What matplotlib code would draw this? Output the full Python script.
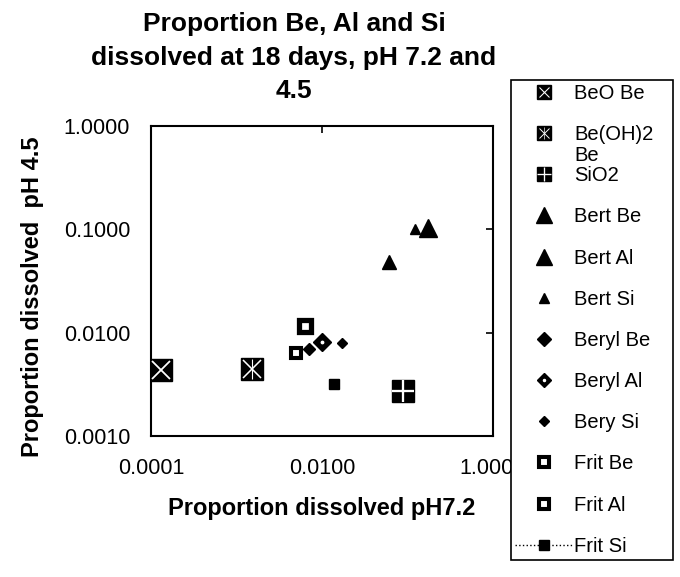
import matplotlib
matplotlib.use("Agg")
import matplotlib.pyplot as plt
from matplotlib.lines import Line2D
from matplotlib.transforms import IdentityTransform

plt.rcParams['font.family'] = ['Liberation Sans', 'DejaVu Sans']

# proportion dissolved after 18 days
labels = ['BeO Be', 'Be(OH)2', 'SiO2', 'Bert Be', 'Bert Al', 'Bert Si',
          'Beryl Be', 'Beryl Al', 'Bery Si', 'Frit Be', 'Frit Al', 'Frit Si']
ph72 = [0.00013, 0.00151, 0.088, 0.060, 0.172, 0.122,
        0.0070, 0.0099, 0.0173, 0.0049, 0.0063, 0.0138]
ph45 = [0.0044, 0.0045, 0.0027, 0.0487, 0.1025, 0.100,
        0.0069, 0.0082, 0.0079, 0.0063, 0.0116, 0.0032]

x_ticks = [0.0001, 0.01, 1.0]
x_ticklabels = ['0.0001', '0.0100', '1.0000']
y_ticks = [0.001, 0.01, 0.1, 1.0]
y_ticklabels = ['0.0010', '0.0100', '0.1000', '1.0000']

# marker kind, size on plot, size in legend
styles = [('xbox', 16, 9.5), ('starbox', 16, 9.5), ('plusbox', 16.5, 9.5),
          ('tri', 10, 11.5), ('tri', 13, 11.5), ('tri', 7, 7),
          ('dia', 6.1, 7.5), ('diadot', 8.7, 7.5), ('dia', 5.6, 5),
          ('hollow', 7, 7), ('hollow', 9, 7), ('sq', 7, 6.5)]


def layers(kind, s):
    k = dict(linestyle='none')
    if kind == 'xbox':
        return [dict(k, marker='s', ms=s, color='black'),
                dict(k, marker='x', ms=s * 0.8, color='white', mew=s * 0.08)]
    if kind == 'starbox':
        return [dict(k, marker='s', ms=s, color='black'),
                dict(k, marker='x', ms=s * 0.8, color='white', mew=s * 0.07),
                dict(k, marker='|', ms=s * 0.9, color='white', mew=s * 0.05)]
    if kind == 'plusbox':
        return [dict(k, marker='s', ms=s, color='black'),
                dict(k, marker='+', ms=s, color='white', mew=s * 0.1)]
    if kind == 'tri':
        return [dict(k, marker='^', ms=s, color='black')]
    if kind == 'dia':
        return [dict(k, marker='D', ms=s, color='black')]
    if kind == 'diadot':
        return [dict(k, marker='D', ms=s, color='black'),
                dict(k, marker='o', ms=s * 0.2, color='white')]
    if kind == 'hollow':
        return [dict(k, marker='s', ms=s, mfc='white', mec='black', mew=s * 0.42)]
    return [dict(k, marker='s', ms=s, color='black')]


fig = plt.figure(figsize=(6.8, 5.77), dpi=100)
ax = fig.add_axes([151 / 680, 1 - 436 / 577, 342 / 680, 310 / 577])

handles = []
for i, name in enumerate(labels):
    kind, s_plot, s_leg = styles[i]
    for lay in layers(kind, s_plot):
        ax.plot([ph72[i]], [ph45[i]], zorder=3, **lay)
    parts = []
    for lay in layers(kind, s_leg):
        if name == 'Frit Si':
            lay = dict(lay, linestyle=':', lw=1.0)
        parts.append(Line2D([], [], **lay))
    handles.append(tuple(parts))

ax.set_xscale('log')
ax.set_yscale('log')
ax.set_xlim(0.0001, 1.0)
ax.set_ylim(0.001, 1.0)
ax.set_xticks(x_ticks)
ax.set_xticklabels(x_ticklabels)
ax.set_yticks(y_ticks)
ax.set_yticklabels(y_ticklabels)
ax.minorticks_off()
ax.tick_params(which='both', direction='in', top=True, right=True,
               bottom=False, left=False, length=5, width=1.2, labelsize=15.5)
ax.tick_params(axis='x', pad=16)
ax.tick_params(axis='y', pad=15)
for sp in ax.spines.values():
    sp.set_linewidth(1.5)

ax.set_xlabel('Proportion dissolved pH7.2', fontsize=17, fontweight='bold', labelpad=13)
fig.text(33 / 680, 1 - 297 / 577, 'Proportion dissolved  pH 4.5', rotation=90,
         ha='center', va='center', fontsize=17, fontweight='bold')
fig.text(294 / 680, 1 - 58 / 577,
         'Proportion Be, Al and Si\ndissolved at 18 days, pH 7.2 and\n4.5',
         ha='center', va='center', fontsize=19, fontweight='bold', linespacing=1.5)

leg = fig.legend(handles, labels, loc='upper left',
                 bbox_to_anchor=(511 / 680, 1 - 80 / 577 - 0.9, 162 / 680, 0.9),
                 bbox_transform=fig.transFigure, mode='expand', borderaxespad=0,
                 fontsize=14.5, frameon=True, fancybox=False, framealpha=1,
                 edgecolor='black', borderpad=0.2, handlelength=2.9,
                 handletextpad=0.05, labelspacing=1.1)
leg.get_frame().set_linewidth(1.2)

fig.canvas.draw()
bb = leg.get_texts()[1].get_window_extent()
fig.text(bb.x0, bb.y0 + bb.height / 2 - 21, 'Be', transform=IdentityTransform(),
         ha='left', va='center', fontsize=14.5, zorder=10)

fig.savefig('out.png', dpi=100)
